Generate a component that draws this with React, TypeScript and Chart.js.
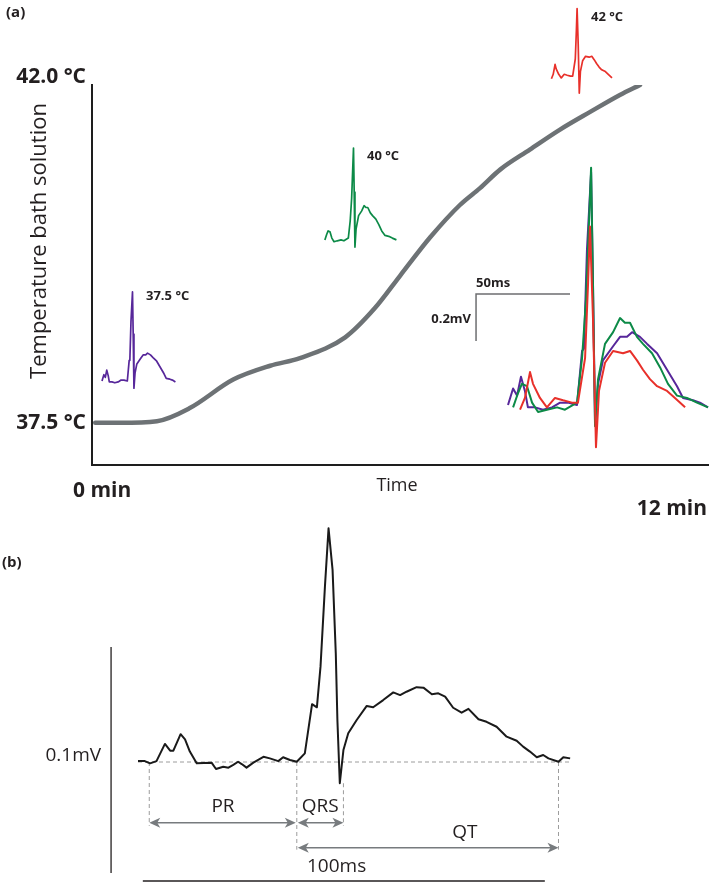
import React, { useEffect, useRef } from "react";
import { Chart, registerables } from "chart.js";
Chart.register(...registerables);

const FONT = '"Open Sans", "DejaVu Sans", sans-serif';

// ---------------- Panel (a): bath temperature vs time ----------------
const timeMin = [0.07, 0.61, 1.42, 2.14, 3.09, 3.9, 4.55, 5.54, 6.19, 6.74, 7.4, 8.05, 8.49, 8.93, 9.58, 10.24, 10.9, 11.55, 11.99];
const tempC = [37.49, 37.49, 37.51, 37.68, 38.05, 38.23, 38.33, 38.6, 38.98, 39.4, 39.9, 40.32, 40.54, 40.78, 41.04, 41.3, 41.53, 41.75, 41.88];
const tempTickValues = [42.0, 37.5];
const tempTickLabels = ["42.0 °C", "37.5 °C"];
const timeTickLabels = ["0 min", "12 min"];
const insetLabels = ["37.5 °C", "40 °C", "42 °C"];

// ECG traces (time in ms, amplitude in mV)
const ecg375Ms = [0, 2.7, 4.8, 6.9, 9.0, 10.6, 14.4, 18.6, 23.4, 27.7, 31.9, 36.7, 39.4, 40.4, 42.0, 44.2, 45.2, 46.3, 47.9, 50.5, 55.9, 59.6, 63.3, 66.0, 70.2, 74.0, 79.3, 84.6, 89.9, 93.1, 98.4, 102.1, 106.4];
const ecg375mV = [0.0, 0.07, 0.04, 0.12, 0.06, -0.01, -0.01, -0.02, -0.01, 0.01, 0.01, 0.0, 0.23, 0.24, 0.66, 0.99, 0.52, -0.08, 0.09, 0.19, 0.25, 0.29, 0.29, 0.31, 0.29, 0.26, 0.22, 0.15, 0.08, 0.03, 0.02, 0.01, -0.01];
const ecg40Ms = [2.7, 5.3, 7.4, 10.1, 12.8, 16.0, 20.7, 26.1, 30.3, 36.7, 39.4, 41.5, 44.2, 45.2, 46.3, 47.9, 51.6, 55.9, 59.6, 62.2, 64.9, 68.6, 71.8, 76.6, 80.9, 85.1, 89.9, 95.2, 100.5, 106.4];
const ecg40mV = [-0.01, 0.05, 0.09, 0.08, 0.01, -0.03, -0.02, -0.01, -0.02, 0.01, 0.2, 0.45, 1.01, 0.52, -0.09, 0.11, 0.26, 0.31, 0.37, 0.35, 0.35, 0.29, 0.26, 0.22, 0.16, 0.09, 0.04, 0.03, 0.01, -0.01];
const ecg42Ms = [6.4, 9.0, 11.7, 13.3, 17.0, 20.7, 25.0, 29.3, 34.0, 37.2, 41.0, 42.6, 43.6, 45.2, 46.8, 48.4, 51.6, 55.9, 61.2, 64.9, 68.6, 71.8, 75.5, 79.3, 84.6, 88.8, 94.2];
const ecg42mV = [-0.02, 0.03, 0.14, 0.09, 0.03, -0.01, 0.03, 0.02, 0.01, 0.01, 0.2, 0.52, 0.76, 0.37, -0.18, 0.06, 0.18, 0.23, 0.22, 0.23, 0.19, 0.15, 0.11, 0.08, 0.06, 0.03, -0.01];
const scaleBarA = { ms: 50, mV: 0.2, msLabel: "50ms", mVLabel: "0.2mV" };

// ---------------- Panel (b): annotated ECG ----------------
const ecgBMs = [0, 1.7, 3.0, 4.6, 6.7, 8.0, 8.8, 10.6, 11.7, 12.9, 14.6, 18.3, 19.4, 21.2, 22.5, 23.7, 24.9, 25.8, 27.0, 28.7, 31.2, 32.8, 34.9, 36.1, 37.8, 39.5, 41.5, 43.3, 44.5, 45.4, 46.5, 47.4, 48.4, 49.2, 49.6, 50.2, 51.1, 52.3, 54.4, 56.9, 58.5, 61.0, 63.5, 65.2, 66.8, 69.3, 71.0, 73.1, 74.7, 76.4, 78.4, 80.5, 82.2, 84.7, 86.7, 89.2, 91.7, 94.2, 95.8, 97.5, 99.2, 100.8, 102.1, 104.6, 105.8, 107.5];
const ecgBmV = [0.0004, 0.0004, -0.0006, 0.0004, 0.008, 0.005, 0.005, 0.0123, 0.01, 0.0046, -0.0006, -0.0003, -0.0031, -0.0021, -0.0025, -0.0013, 0.0001, -0.0009, -0.0025, -0.0003, 0.0023, 0.0016, 0.0004, 0.0021, 0.0009, 0.0001, 0.0038, 0.0256, 0.0242, 0.0422, 0.0776, 0.1034, 0.085, 0.0481, 0.0186, -0.0094, 0.0053, 0.0127, 0.0186, 0.0248, 0.0242, 0.0274, 0.0308, 0.0296, 0.0311, 0.0331, 0.0329, 0.03, 0.0304, 0.0289, 0.024, 0.0218, 0.0235, 0.0189, 0.0178, 0.0156, 0.0112, 0.0094, 0.0068, 0.0046, 0.0021, 0.0031, 0.0016, 0.0001, 0.0021, 0.0016];
const intervalPR = [2.8, 39.5];
const intervalQRS = [39.5, 51.1];
const intervalQT = [39.5, 104.6];
const intervalLabels = ["PR", "QRS", "QT"];
const scaleBarB = { ms: 100, mV: 0.1, msLabel: "100ms", mVLabel: "0.1mV" };

type Pt = { x: number; y: number };
const zip = (xs: number[], ys: number[]): Pt[] => xs.map((x, i) => ({ x, y: ys[i] }));

// ---------------- layout constants ----------------
const A_W = 709, A_H = 520;
const A_AREA = { left: 92, top: 85, right: 709, bottom: 465 };
const PLACE: Record<string, { ox: number; oy: number; sx: number; sy: number }> = {
  P: { ox: 102, oy: 381, sx: 0.69, sy: 90 },
  G: { ox: 323, oy: 239, sx: 0.69, sy: 90 },
  R: { ox: 547, oy: 77, sx: 0.69, sy: 90 },
  O: { ox: 508, oy: 405, sx: 1.88, sy: 235 },
};
const B_W = 709, B_H = 362;
const B_PLACE = { ox: 138, oy: 242, sx: 4.02, sy: 2260 };

function placedScales(id: string, p: { ox: number; oy: number; sx: number; sy: number }, area: { left: number; top: number; right: number; bottom: number }) {
  const W = area.right - area.left, H = area.bottom - area.top;
  const xmin = -(p.ox - area.left) / p.sx;
  const ymin = -(area.bottom - p.oy) / p.sy;
  return {
    ["x" + id]: { type: "linear", axis: "x", display: false, min: xmin, max: xmin + W / p.sx },
    ["y" + id]: { type: "linear", axis: "y", display: false, min: ymin, max: ymin + H / p.sy },
  };
}

function txt(ctx: CanvasRenderingContext2D, s: string, x: number, y: number, font: string, align: CanvasTextAlign = "left", color = "#231f20") {
  ctx.font = font;
  ctx.textAlign = align;
  ctx.textBaseline = "middle";
  ctx.fillStyle = color;
  ctx.fillText(s, x, y);
}

const C_PURPLE = "#57279a";
const C_GREEN = "#0c8a47";
const C_RED = "#e8302a";

const panelAPlugin = {
  id: "panelA",
  afterDraw(chart: any) {
    const ctx: CanvasRenderingContext2D = chart.ctx;
    const ys = chart.scales.y;
    const xO = chart.scales.xO, yO = chart.scales.yO;
    ctx.save();
    txt(ctx, "(a)", 6, 13, `bold 15px ${FONT}`);
    tempTickValues.forEach((v, i) => txt(ctx, tempTickLabels[i], 86, ys.getPixelForValue(v) + 1, `bold 21px ${FONT}`, "right"));
    ctx.save();
    ctx.translate(40, 241);
    ctx.rotate(-Math.PI / 2);
    txt(ctx, "Temperature bath solution", 0, 0, `22px ${FONT}`, "center");
    ctx.restore();
    txt(ctx, timeTickLabels[0], 73, 491, `bold 21px ${FONT}`, "left");
    txt(ctx, "Time", 397, 486, `18px ${FONT}`, "center");
    txt(ctx, timeTickLabels[1], 707, 509, `bold 21px ${FONT}`, "right");
    txt(ctx, insetLabels[0], 146, 296, `bold 13px ${FONT}`);
    txt(ctx, insetLabels[1], 367, 156, `bold 13px ${FONT}`);
    txt(ctx, insetLabels[2], 591, 17, `bold 13px ${FONT}`);
    // scale bar for overlay
    const t0 = -17, v0 = 0.4723;
    const bx0 = xO.getPixelForValue(t0), bx1 = xO.getPixelForValue(t0 + scaleBarA.ms);
    const by0 = yO.getPixelForValue(v0), by1 = yO.getPixelForValue(v0 - scaleBarA.mV);
    ctx.strokeStyle = "#6d6e70";
    ctx.lineWidth = 1.5;
    ctx.beginPath();
    ctx.moveTo(bx1, by0);
    ctx.lineTo(bx0, by0);
    ctx.lineTo(bx0, by1);
    ctx.stroke();
    txt(ctx, scaleBarA.msLabel, bx0, by0 - 11, `bold 13px ${FONT}`);
    txt(ctx, scaleBarA.mVLabel, bx0 - 5, (by0 + by1) / 2 + 2, `bold 13px ${FONT}`, "right");
    ctx.restore();
  },
};

function arrowHead(ctx: CanvasRenderingContext2D, x: number, y: number, dir: number) {
  ctx.beginPath();
  ctx.moveTo(x, y);
  ctx.lineTo(x + dir * 11, y - 5);
  ctx.lineTo(x + dir * 8, y);
  ctx.lineTo(x + dir * 11, y + 5);
  ctx.closePath();
  ctx.fill();
}
function dblArrow(ctx: CanvasRenderingContext2D, x1: number, x2: number, y: number) {
  ctx.beginPath();
  ctx.moveTo(x1 + 6, y);
  ctx.lineTo(x2 - 6, y);
  ctx.stroke();
  arrowHead(ctx, x1, y, 1);
  arrowHead(ctx, x2, y, -1);
}

const B_ANN = { arrow1V: -0.0269, arrow2V: -0.0379, labelRowV: -0.0198, qtLabelV: -0.0313, qtLabelT: 81.3, barT: 1.2, barV: -0.0527, vbarT: -6.7, vbarV: -0.0491, msLabelT: 49.4, msLabelV: -0.0463 };

const panelBPlugin = {
  id: "panelB",
  beforeDatasetsDraw(chart: any) {
    const ctx: CanvasRenderingContext2D = chart.ctx;
    const x = chart.scales.x, y = chart.scales.y;
    const X = (t: number) => x.getPixelForValue(t);
    const Y = (v: number) => y.getPixelForValue(v);
    ctx.save();
    ctx.strokeStyle = "#9c9c9c";
    ctx.lineWidth = 1;
    ctx.setLineDash([4, 3]);
    const line = (x1: number, y1: number, x2: number, y2: number) => {
      ctx.beginPath(); ctx.moveTo(x1, y1); ctx.lineTo(x2, y2); ctx.stroke();
    };
    line(X(ecgBMs[0]), Y(0), X(ecgBMs[ecgBMs.length - 1]), Y(0));
    line(X(intervalPR[0]), Y(0), X(intervalPR[0]), Y(B_ANN.arrow1V) + 3);
    line(X(intervalQT[0]), Y(0), X(intervalQT[0]), Y(B_ANN.arrow2V) + 2);
    line(X(intervalQRS[1]), Y(Math.min(...ecgBmV)), X(intervalQRS[1]), Y(B_ANN.arrow1V) + 3);
    line(X(intervalQT[1]), Y(0), X(intervalQT[1]), Y(B_ANN.arrow2V) + 2);
    ctx.restore();
  },
  afterDraw(chart: any) {
    const ctx: CanvasRenderingContext2D = chart.ctx;
    const x = chart.scales.x, y = chart.scales.y;
    const X = (t: number) => x.getPixelForValue(t);
    const Y = (v: number) => y.getPixelForValue(v);
    ctx.save();
    ctx.strokeStyle = "#777b7e";
    ctx.fillStyle = "#777b7e";
    ctx.lineWidth = 1.5;
    dblArrow(ctx, X(intervalPR[0]), X(intervalPR[1]) - 1, Y(B_ANN.arrow1V));
    dblArrow(ctx, X(intervalQRS[0]) + 1, X(intervalQRS[1]), Y(B_ANN.arrow1V));
    dblArrow(ctx, X(intervalQT[0]) + 1, X(intervalQT[1]), Y(B_ANN.arrow2V));
    const f = `19px ${FONT}`;
    txt(ctx, intervalLabels[0], X((intervalPR[0] + intervalPR[1]) / 2), Y(B_ANN.labelRowV), f, "center");
    txt(ctx, intervalLabels[1], X((intervalQRS[0] + intervalQRS[1]) / 2), Y(B_ANN.labelRowV), f, "center");
    txt(ctx, intervalLabels[2], X(B_ANN.qtLabelT), Y(B_ANN.qtLabelV), f, "center");
    // scale bars
    ctx.strokeStyle = "#231f20";
    ctx.lineWidth = 1.5;
    ctx.beginPath();
    ctx.moveTo(X(B_ANN.barT), Y(B_ANN.barV));
    ctx.lineTo(X(B_ANN.barT + scaleBarB.ms), Y(B_ANN.barV));
    ctx.stroke();
    ctx.lineWidth = 1.3;
    ctx.beginPath();
    ctx.moveTo(X(B_ANN.vbarT), Y(B_ANN.vbarV));
    ctx.lineTo(X(B_ANN.vbarT), Y(B_ANN.vbarV + scaleBarB.mV));
    ctx.stroke();
    txt(ctx, scaleBarB.msLabel, X(B_ANN.msLabelT), Y(B_ANN.msLabelV), f, "center");
    txt(ctx, scaleBarB.mVLabel, X(B_ANN.vbarT) - 10, Y(B_ANN.vbarV + scaleBarB.mV / 2) - 4, f, "right");
    txt(ctx, "(b)", 2, 43, `bold 15px ${FONT}`);
    ctx.restore();
  },
};

function ecgDataset(label: string, xs: number[], ys: number[], color: string, id: string, width: number, order: number) {
  return {
    label,
    data: zip(xs, ys),
    xAxisID: "x" + id,
    yAxisID: "y" + id,
    borderColor: color,
    borderWidth: width,
    pointRadius: 0,
    tension: 0,
    borderJoinStyle: "round",
    clip: false,
    order,
  };
}

function buildA(): any {
  return {
    type: "line",
    data: {
      datasets: [
        {
          label: "Temperature bath solution",
          data: zip(timeMin, tempC),
          xAxisID: "x",
          yAxisID: "y",
          borderColor: "#6d7275",
          borderWidth: 4.5,
          pointRadius: 0,
          cubicInterpolationMode: "monotone",
          borderCapStyle: "round",
          order: 10,
        },
        ecgDataset("37.5 °C", ecg375Ms, ecg375mV, C_PURPLE, "P", 1.7, 6),
        ecgDataset("40 °C", ecg40Ms, ecg40mV, C_GREEN, "G", 1.7, 6),
        ecgDataset("42 °C", ecg42Ms, ecg42mV, C_RED, "R", 1.7, 6),
        ecgDataset("37.5 °C overlay", ecg375Ms, ecg375mV, C_PURPLE, "O", 2, 3),
        ecgDataset("40 °C overlay", ecg40Ms, ecg40mV, C_GREEN, "O", 2, 2),
        ecgDataset("42 °C overlay", ecg42Ms, ecg42mV, C_RED, "O", 2, 1),
      ],
    },
    options: {
      responsive: false,
      animation: false,
      devicePixelRatio: 1,
      events: [],
      layout: { autoPadding: false, padding: { left: A_AREA.left, top: A_AREA.top, right: A_W - A_AREA.right, bottom: A_H - A_AREA.bottom } },
      plugins: { legend: { display: false }, tooltip: { enabled: false }, title: { display: false } },
      scales: {
        x: { type: "linear", min: 0, max: 13.5, grid: { display: false, drawTicks: false }, ticks: { display: false }, border: { display: true, color: "#1e1e1e", width: 2 } },
        y: { type: "linear", min: 36.94, max: 41.88, grid: { display: false, drawTicks: false }, ticks: { display: false }, border: { display: true, color: "#1e1e1e", width: 2 } },
        ...placedScales("P", PLACE.P, A_AREA),
        ...placedScales("G", PLACE.G, A_AREA),
        ...placedScales("R", PLACE.R, A_AREA),
        ...placedScales("O", PLACE.O, A_AREA),
      },
    },
    plugins: [panelAPlugin],
  };
}

function buildB(): any {
  const area = { left: 0, top: 0, right: B_W, bottom: B_H };
  const s = placedScales("", B_PLACE, area);
  return {
    type: "line",
    data: {
      datasets: [
        {
          label: "ECG",
          data: zip(ecgBMs, ecgBmV),
          borderColor: "#1a1a1a",
          borderWidth: 2,
          pointRadius: 0,
          tension: 0,
          borderJoinStyle: "round",
          clip: false,
        },
      ],
    },
    options: {
      responsive: false,
      animation: false,
      devicePixelRatio: 1,
      events: [],
      layout: { autoPadding: false, padding: 0 },
      plugins: { legend: { display: false }, tooltip: { enabled: false }, title: { display: false } },
      scales: s,
    },
    plugins: [panelBPlugin],
  };
}

export default function App() {
  const refA = useRef<HTMLCanvasElement>(null);
  const refB = useRef<HTMLCanvasElement>(null);
  useEffect(() => {
    const a = new Chart(refA.current as HTMLCanvasElement, buildA());
    const b = new Chart(refB.current as HTMLCanvasElement, buildB());
    return () => {
      a.destroy();
      b.destroy();
    };
  }, []);
  return (
    <div style={{ position: "absolute", left: 0, top: 0, width: 709, height: 882, overflow: "hidden", background: "#fff" }}>
      <canvas ref={refA} width={A_W} height={A_H} style={{ position: "absolute", left: 0, top: 0, width: A_W, height: A_H }} />
      <canvas ref={refB} width={B_W} height={B_H} style={{ position: "absolute", left: 0, top: 520, width: B_W, height: B_H }} />
    </div>
  );
}
